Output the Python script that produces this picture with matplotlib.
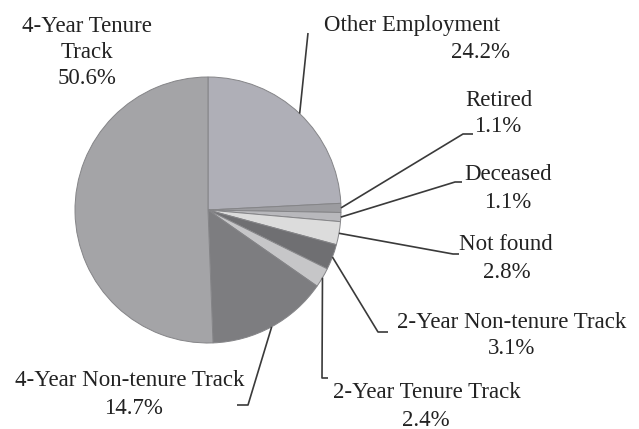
import numpy as np
import matplotlib
matplotlib.use("Agg")
import matplotlib.pyplot as plt

# Data (clockwise from 12 o'clock)
labels = ["Other Employment", "Retired", "Deceased", "Not found",
          "2-Year Non-tenure Track", "2-Year Tenure Track",
          "4-Year Non-tenure Track", "4-Year Tenure Track"]
shares = [24.2, 1.1, 1.1, 2.8, 3.1, 2.4, 14.7, 50.6]
colors = ["#afafb7", "#9c9ca0", "#b8b8bc", "#dcdcdc",
          "#6f6f72", "#c6c6c8", "#7d7d80", "#a4a4a7"]

W, H = 639, 429
plt.rcParams['font.family'] = ['Liberation Serif', 'DejaVu Serif']

def py(y):
    # pixel row -> data y
    return H - y

fig = plt.figure(figsize=(W / 100, H / 100), dpi=100)
ax = fig.add_axes([0, 0, 1, 1])

cx, cy, r = 208, py(210), 133
wedges, _ = ax.pie(shares, colors=colors, startangle=90, counterclock=False,
                   center=(cx, cy), radius=r,
                   wedgeprops=dict(edgecolor="#858588", linewidth=0.7))
ax.set_xlim(0, W)
ax.set_ylim(0, H)
ax.axis("off")

# label text layout: (name lines, name centre, pct centre) in pixels
text_pos = {
    "Other Employment": ([("Other Employment", 412, 26)], (480, 53)),
    "Retired": ([("Retired", 499, 100)], (498, 127)),
    "Deceased": ([("Deceased", 508, 175)], (508, 203)),
    "Not found": ([("Not found", 506, 245)], (507, 272)),
    "2-Year Non-tenure Track": ([("2-Year Non-tenure Track", 512, 322)], (512, 349)),
    "2-Year Tenure Track": ([("2-Year Tenure Track", 427, 392)], (426, 420)),
    "4-Year Non-tenure Track": ([("4-Year Non-tenure Track", 130, 381)], (133, 408)),
    "4-Year Tenure Track": ([("4-Year Tenure", 87, 26), ("Track", 87, 52)], (87, 78)),
}
# leader line: elbow point and end of short horizontal tick (pixels)
leaders = {
    "Other Employment": [(308, 33)],
    "Retired": [(463, 134), (473, 134)],
    "Deceased": [(455, 182), (462, 182)],
    "Not found": [(453, 254), (459, 254)],
    "2-Year Non-tenure Track": [(378, 332), (388, 332)],
    "2-Year Tenure Track": [(322, 378), (328, 378)],
    "4-Year Non-tenure Track": [(248, 405), (237, 405)],
}

fs = 16.5
for w, name, val in zip(wedges, labels, shares):
    lines, (pxp, pyp) = text_pos[name]
    for s, tx, ty in lines:
        ax.text(tx, py(ty), s, ha="center", va="center", fontsize=fs, color="#222222")
    ax.text(pxp, py(pyp), f"{val:.1f}%", ha="center", va="center",
            fontsize=fs, color="#222222")
    if name in leaders:
        mid = np.deg2rad((w.theta1 + w.theta2) / 2)
        xs = [cx + r * np.cos(mid)] + [p[0] for p in leaders[name]]
        ys = [cy + r * np.sin(mid)] + [py(p[1]) for p in leaders[name]]
        ax.plot(xs, ys, color="#3a3a3a", lw=1.2, solid_capstyle="butt")

fig.savefig("out.png", dpi=100)
